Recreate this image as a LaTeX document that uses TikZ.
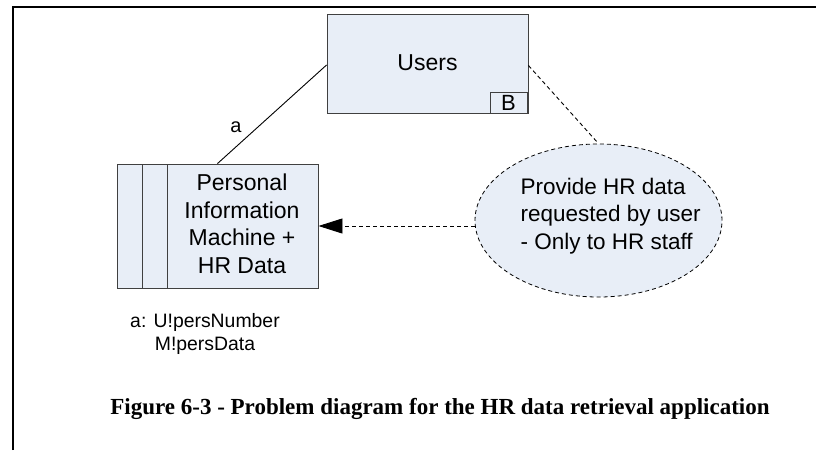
\documentclass[tikz,border=0pt]{standalone}
\usepackage{fontspec}
\setmainfont{Liberation Sans}
\newfontfamily\capfont{Liberation Serif}
\usetikzlibrary{arrows.meta,shapes.geometric}
\definecolor{boxfill}{HTML}{E8EEF7}
\definecolor{boxline}{HTML}{404040}
\tikzset{
  dombox/.style={draw=boxline, line width=0.9pt, fill=boxfill, inner sep=0pt},
  reqell/.style={ellipse, draw=black, dash pattern=on 4pt off 3pt, line width=0.8pt, fill=boxfill, inner sep=0pt, minimum width=247pt, minimum height=153pt},
  solidlink/.style={draw=black, line width=0.9pt},
  reflink/.style={draw=black, line width=0.9pt, dash pattern=on 4pt off 3pt},
  bigtext/.style={font=\fontsize{23}{27.5}\selectfont, align=center},
  framestyle/.style={line width=2pt}
}
\begin{document}
\begin{tikzpicture}[x=1pt,y=-1pt]
\useasboundingbox (0,0) rectangle (816,450);
% frame
\draw[framestyle] (13,450) -- (13,7) -- (816,7);
% Users
\node[dombox, minimum width=201pt, minimum height=99pt] (users) at (427.5,63.5) {};
\node[bigtext] (userst) at (427.5,63) {Users};
\node[dombox, minimum width=37pt, minimum height=21pt, font=\fontsize{22}{22}\selectfont] (b) at (508.5,102.5) {B};
% PIM
\node[dombox, minimum width=201pt, minimum height=124pt] (pim) at (217.5,226) {};
\draw[boxline, line width=0.9pt] (142,164) -- (142,288) (167,164) -- (167,288);
\node[bigtext] (pimt) at (242,224) {Personal\\Information\\Machine +\\HR Data};
% requirement
\node[reqell] (ell) at (598.5,220.5) {};
\node[font=\fontsize{22.5}{27.5}\selectfont, align=left, anchor=west] (ellt) at (517,216) {Provide HR data\\requested by user\\- Only to HR staff};
% connectors
\draw[solidlink] ([yshift=-1.5pt]users.west) -- (pim.north);
\node[font=\fontsize{20}{20}\selectfont] (a) at (236,127) {a};
\draw[reflink] ([yshift=-2pt]users.east) -- (ell.north);
\draw[reflink, -{Triangle[length=24pt,width=15pt]}] (ell.west |- pim.east) -- (pim.east);
% phenomena
\node[font=\fontsize{19.4}{23}\selectfont, align=center] (phen) at (205,334) {a: U!persNumber\\M!persData};
% caption
\node[font=\capfont\bfseries\fontsize{23}{23}\selectfont] (cap) at (440,409) {Figure 6-3 - Problem diagram for the HR data retrieval application};
\end{tikzpicture}
\end{document}
